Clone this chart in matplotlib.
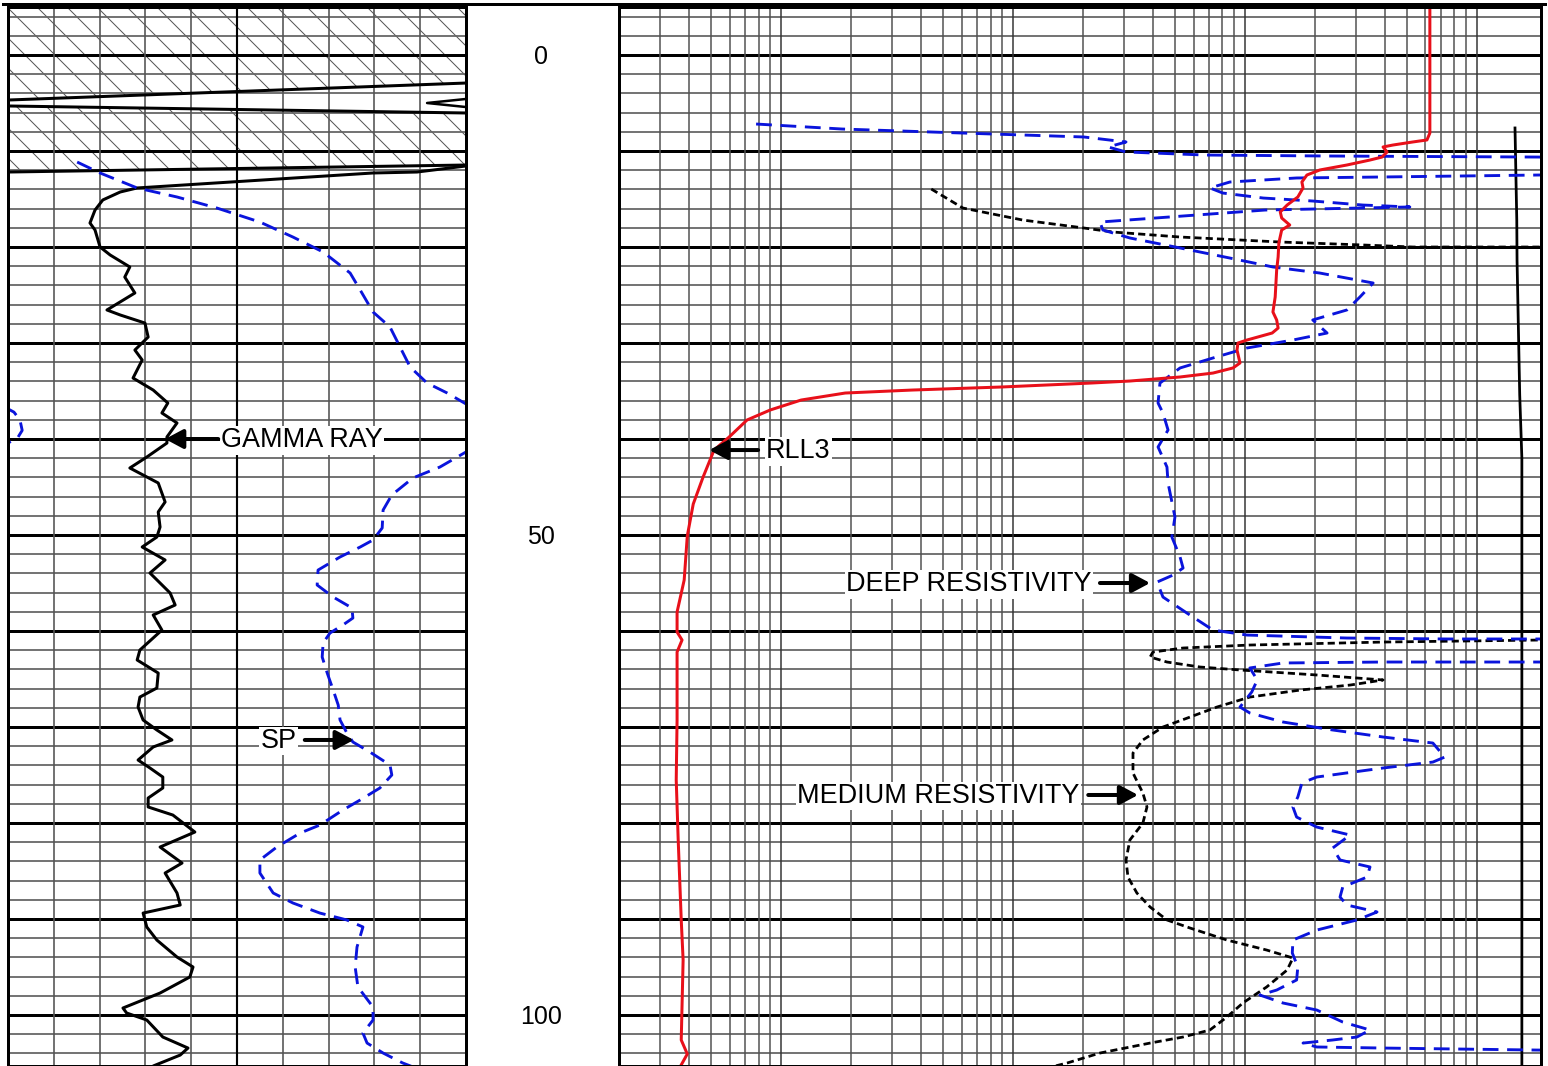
import numpy as np
import matplotlib
matplotlib.use("Agg")
import matplotlib.pyplot as plt
from matplotlib.lines import Line2D
from matplotlib.transforms import blended_transform_factory

plt.rcParams['font.family'] = ['Liberation Sans', 'DejaVu Sans']
plt.rcParams['hatch.linewidth'] = 0.8

# ---- track 1: gamma ray (solid) and SP (dashed), linear 0-100 ----
gr_depth = [11.56, 12.19, 12.29, 13.85, 14.27, 15.10, 16.15, 17.50, 18.23, 20.0, 20.83, 22.08, 23.13,
            24.79, 26.56, 27.08, 27.92, 29.38, 30.73, 31.77, 33.65, 34.90, 36.25, 37.29, 38.33,
            39.79, 40.42, 41.88, 43.02, 43.75, 44.58, 46.56, 47.60, 49.17, 50.21, 51.25, 52.60,
            53.96, 56.04, 57.29, 58.33, 59.90, 61.98, 63.02, 64.38, 65.94, 66.88, 67.92, 69.27,
            70.31, 71.35, 72.08, 73.44, 74.27, 75.21, 76.35, 77.40, 78.33, 79.17, 80.94, 82.50,
            84.17, 85.21, 87.29, 88.54, 89.38, 90.83, 92.19, 93.96, 95.0, 96.04, 97.71, 99.27,
            99.79, 100.52, 102.29, 103.44, 104.17, 105.31]
gr_value = [100, 89.3, 79.7, 28.2, 24.5, 20.7, 19.0, 17.9, 19.0, 20.1, 22.3, 26.6, 25.5,
            27.7, 21.6, 24.5, 29.9, 30.6, 27.7, 29.3, 27.3, 31.7, 34.9, 33.6, 36.9,
            34.7, 34.7, 30.3, 26.6, 29.5, 32.8, 34.3, 32.8, 33.2, 32.5, 29.3, 34.3,
            31.0, 35.4, 36.5, 31.7, 33.6, 28.8, 28.2, 32.8, 32.5, 28.8, 28.4, 29.5,
            32.5, 35.8, 31.7, 28.4, 31.0, 33.8, 33.8, 30.6, 30.6, 36.0, 40.8, 33.2,
            38.0, 34.3, 36.9, 37.6, 29.5, 30.3, 32.5, 36.9, 40.4, 39.7, 33.2, 25.1,
            25.9, 30.3, 33.8, 39.3, 37.6, 31.7]

# wrapped (backup scale) gamma ray near the top, drawn as straight traces
gr_wrap_x = [0, 100]
gr_wrap_upper = [4.69, 2.92]
gr_wrap_lower = [5.31, 6.04]
gr_wrap_base = [12.19, 11.46]
gr_tip_value = [100, 91.5, 100]
gr_tip_depth = [4.58, 5.0, 5.42]

sp_depth = [11.15, 12.29, 13.85, 14.79, 15.94, 17.40, 18.96, 20.52, 22.71, 24.48, 26.77, 28.33,
            30.42, 32.50, 34.17, 35.21, 36.35, 37.0, 40.8, 41.35, 42.92, 44.06, 45.83, 47.40,
            49.27, 50.52, 51.25, 52.29, 53.65, 55.21, 56.46, 57.60, 58.65, 59.38, 60.21, 61.25,
            62.71, 64.38, 66.15, 67.71, 69.27, 70.63, 71.56, 72.60, 73.96, 75.0, 76.35, 77.60,
            78.65, 80.21, 81.04, 82.50, 83.85, 85.21, 87.29, 88.33, 89.38, 90.10, 90.83, 92.92,
            95.0, 97.08, 99.17, 100.52, 101.88, 102.92, 103.96, 105.0, 105.7]
sp_value = [15.1, 20.1, 28.2, 36.9, 45.6, 55.0, 62.2, 68.8, 74.7, 76.9, 79.7, 83.4,
            85.6, 87.8, 91.5, 95.9, 100, 106, 106, 100, 94.3, 88.4, 83.8, 81.9,
            81.7, 79.7, 76.9, 72.5, 67.7, 67.5, 71.0, 75.1, 75.3, 73.1, 70.3, 68.8,
            68.6, 69.7, 71.0, 72.1, 72.5, 74.0, 75.3, 79.0, 83.4, 83.8, 81.2, 76.9,
            73.1, 68.1, 63.8, 58.7, 55.0, 55.0, 57.9, 62.2, 68.1, 74.0, 77.5, 76.2,
            75.8, 76.4, 79.7, 79.7, 77.5, 78.4, 81.9, 86.2, 90.0]
sp_wrap_depth = [36.6, 37.2, 38.0, 39.1, 39.8, 40.3, 41.0]
sp_wrap_value = [-1, 1.3, 2.6, 3.1, 2.2, 0.4, -1]

# ---- track 2: resistivity, log scale ----
rll3_depth = [-5, 8.13, 8.85, 9.06, 9.38, 9.58, 10.10, 10.63, 10.94, 11.46, 11.98, 12.5, 13.23,
              13.85, 14.79, 15.63, 16.35, 16.98, 17.71, 18.23, 19.58, 21.04, 22.40, 25.21, 26.77,
              27.60, 28.44, 28.96, 29.69, 30.0, 30.73, 32.08, 32.60, 33.13, 33.54, 33.96, 34.17,
              34.58, 34.90, 35.21, 35.94, 36.98, 38.02, 39.79, 41.15, 43.96, 46.77, 50.10, 54.69,
              58.02, 60.10, 60.94, 62.19, 69.27, 75.52, 81.77, 90.10, 94.27, 102.6, 104.06, 105.4]
rll3_value = [6270, 6270, 6090, 5290, 4340, 3940, 4100, 3900, 3460, 2750, 2100, 1850, 1760,
              1780, 1690, 1520, 1420, 1440, 1560, 1440, 1400, 1390, 1370, 1350, 1320,
              1370, 1390, 1310, 1020, 933, 924, 952, 888, 728, 525, 319, 217,
              89.7, 36.7, 18.9, 12.2, 8.97, 7.13, 5.97, 5.14, 4.61, 4.18, 3.94, 3.82,
              3.56, 3.56, 3.74, 3.56, 3.56, 3.53, 3.60, 3.71, 3.78, 3.71, 3.94, 3.67]

deep_depth = [7.19, 7.71, 8.13, 8.54, 9.06, 9.58, 10.10, 10.42, 10.52, 10.63, 10.7, 12.4, 12.5,
              12.71, 12.81, 13.23, 13.85, 14.38, 14.90, 15.21, 15.63, 15.83, 16.15, 17.40, 18.23,
              19.06, 20.10, 21.15, 22.08, 22.71, 23.75, 25.21, 26.56, 27.60, 28.96, 29.69, 30.52,
              31.56, 32.60, 34.17, 36.25, 37.29, 39.06, 40.83, 42.92, 44.58, 48.13, 50.21, 52.29,
              53.44, 54.17, 54.90, 56.46, 58.13, 59.90, 60.42, 60.73, 60.83, 60.83, 60.9, 63.2,
              63.23, 63.23, 63.33, 63.85, 65.10, 66.35, 67.92, 68.54, 69.48, 70.31, 71.04, 71.67,
              73.13, 73.65, 74.27, 75.21, 75.83, 77.29, 78.33, 79.38, 80.42, 81.25, 82.60, 83.85,
              84.58, 85.63, 86.67, 87.71, 88.54, 89.27, 90.10, 91.15, 92.19, 93.54, 95.0, 96.35,
              97.40, 97.92, 98.75, 99.48, 100.73, 101.56, 102.29, 102.60, 102.92, 103.33, 103.44,
              103.65, 103.7]
deep_value = [7.80, 18.3, 60.8, 202, 307, 257, 307, 673, 2210, 18200, 40000, 40000, 18700,
              3820, 1670, 861, 706, 803, 1200, 1960, 3230, 5140, 1220, 237, 244,
              319, 525, 861, 1320, 2100, 3570, 3130, 2750, 1960, 2260, 1610, 1020,
              728, 525, 430, 422, 443, 466, 422, 461, 466, 499, 484, 525,
              541, 490, 418, 443, 562, 728, 1020, 2750, 7430, 18700, 40000, 40000,
              18700, 3940, 1460, 1050, 1130, 1070, 952, 1050, 1460, 2390, 3940, 6460,
              7270, 6460, 3940, 2040, 1760, 1690, 1610, 1670, 2040, 2840, 2390, 2570,
              3460, 3360, 2640, 2570, 2750, 3710, 3040, 2040, 1610, 1600, 1690, 1670,
              1370, 1160, 1460, 2040, 2640, 3460, 3040, 2390, 1780, 2040, 3940,
              18300, 40000]

med_depth = [13.96, 15.94, 17.19, 18.02, 18.44, 18.96, 19.48, 19.79, 20.0, 20.0, 20.1, 60.8,
             60.94, 61.15, 61.46, 61.77, 62.19, 62.71, 63.23, 63.75, 64.06, 64.58, 65.10, 65.63,
             66.15, 66.88, 67.92, 68.96, 70.0, 71.35, 72.71, 74.79, 76.88, 78.33, 80.0, 81.77,
             83.85, 85.63, 87.29, 88.75, 90.10, 90.94, 92.19, 93.23, 94.06, 95.31, 97.08, 98.75,
             100.21, 101.56, 102.29, 102.92, 103.96, 105.0, 105.7]
med_value = [44.4, 60.8, 110, 202, 270, 525, 1420, 3230, 5300, 18700, 40000, 40000,
             18700, 3940, 1050, 541, 401, 390, 461, 640, 952, 2040, 3940, 2840,
             1730, 1050, 757, 580, 443, 363, 329, 329, 363, 378, 363, 319,
             307, 313, 342, 390, 461, 580, 836, 1240, 1610, 1520, 1240, 979,
             836, 706, 541, 390, 237, 171, 131]

backup_depth = [7.6, 17.2, 21.4, 35.4, 42.0, 105.3]
backup_value = [14600, 14860, 14900, 15300, 15630, 15630]

depth_labels = [0, 50, 100]

W, H, DPI = 1548, 1066, 90
BLUE = '#0a14dc'
RED = '#e8101a'
top_d, bot_d = -5, 105.31

fig = plt.figure(figsize=(W / DPI, H / DPI), dpi=DPI)
ax_gr = fig.add_axes([8 / W, 0, 458 / W, (H - 7) / H])
ax_res = fig.add_axes([619 / W, 0, 922 / W, (H - 7) / H])

for ax in (ax_gr, ax_res):
    ax.set_ylim(bot_d, top_d)
    ax.set_xticks([])
    ax.set_yticks([])
    ax.minorticks_off()
    for s in ax.spines.values():
        s.set_linewidth(2.4)
        s.set_zorder(5)
    for d in np.arange(-4, 106, 2):
        thick = d % 10 == 0
        ax.axhline(d, color='black' if thick else '#626262', lw=2.4 if thick else 1.4, zorder=1)

ax_gr.set_xlim(0, 100)
for g in range(10, 100, 10):
    ax_gr.axvline(g, color='black' if g == 50 else '#555555', lw=1.7 if g == 50 else 1.3, zorder=1)

ax_res.set_xscale('log')
ax_res.set_xlim(2, 18900)
ax_res.set_xticks([])
ax_res.set_xticks([], minor=True)
for n in range(0, 5):
    for k in range(1, 10):
        v = k * 10 ** n
        if 2 < v < 18900:
            ax_res.axvline(v, color='#333333' if k == 1 else '#505050', lw=1.2, zorder=1)

# hatched shale zone at the top of track 1
ax_gr.fill([0, 100, 100, 0], [top_d, top_d, gr_wrap_upper[1], gr_wrap_upper[0]],
           facecolor='white', edgecolor='#555555', hatch='\\', lw=0, zorder=0.5)
ax_gr.fill([0, 100, 100, 0], [gr_wrap_lower[0], gr_wrap_lower[1], gr_wrap_base[1], gr_wrap_base[0]],
           facecolor='white', edgecolor='#555555', hatch='\\', lw=0, zorder=0.5)
for yy in (gr_wrap_upper, gr_wrap_lower, gr_wrap_base):
    ax_gr.plot(gr_wrap_x, yy, color='black', lw=2.4, zorder=3)
ax_gr.plot(gr_tip_value, gr_tip_depth, color='black', lw=2.0, zorder=3)

ax_gr.plot(gr_value, gr_depth, color='black', lw=2.4, zorder=4,
           solid_joinstyle='round', solid_capstyle='round')
ax_gr.plot(sp_value, sp_depth, color=BLUE, lw=2.3, ls=(0, (5.5, 3)), zorder=4)
ax_gr.plot(sp_wrap_value, sp_wrap_depth, color=BLUE, lw=2.3, ls=(0, (5.5, 3)), zorder=4)

ax_res.plot(backup_value, backup_depth, color='black', lw=2.2, zorder=3)
ax_res.plot(med_value, med_depth, color='black', lw=2.2, ls=(0, (2.6, 1.5)), zorder=4)
ax_res.plot(deep_value, deep_depth, color=BLUE, lw=2.3, ls=(0, (5.5, 3)), zorder=4)
ax_res.plot(rll3_value, rll3_depth, color=RED, lw=2.4, zorder=4, solid_joinstyle='round')

box = dict(facecolor='white', edgecolor='none', pad=1)
arrow = dict(arrowstyle='-|>,head_length=0.6,head_width=0.32', color='black', lw=3.2,
             mutation_scale=20, shrinkA=0, shrinkB=0)
fs = 21.6
dy = 0.12

ax_gr.text(46.5, 40 + dy, 'GAMMA RAY', ha='left', va='center', fontsize=fs, bbox=box, zorder=6)
ax_gr.annotate('', xy=(34.3, 40), xytext=(45.9, 40), arrowprops=arrow, zorder=6)
ax_gr.text(55.2, 71.35 + dy, 'SP', ha='left', va='center', fontsize=fs, bbox=box, zorder=6)
ax_gr.annotate('', xy=(75.5, 71.35), xytext=(64.8, 71.35), arrowprops=arrow, zorder=6)

ax_res.text(8.61, 41.15 + dy, 'RLL3', ha='left', va='center', fontsize=fs, bbox=box, zorder=6)
ax_res.annotate('', xy=(4.9, 41.15), xytext=(7.96, 41.15), arrowprops=arrow, zorder=6)
ax_res.text(219, 55.0 + dy, 'DEEP RESISTIVITY', ha='right', va='center', fontsize=fs, bbox=box, zorder=6)
ax_res.annotate('', xy=(390, 55.0), xytext=(237, 55.0), arrowprops=arrow, zorder=6)
ax_res.text(194, 77.08 + dy, 'MEDIUM RESISTIVITY', ha='right', va='center', fontsize=fs, bbox=box, zorder=6)
ax_res.annotate('', xy=(346, 77.08), xytext=(211, 77.08), arrowprops=arrow, zorder=6)

trans = blended_transform_factory(fig.transFigure, ax_gr.transData)
for d in depth_labels:
    ax_gr.text(541 / W, d + 0.2, str(d), transform=trans, ha='center', va='center',
               fontsize=20, clip_on=False)

fig.add_artist(Line2D([3 / W, 1545 / W], [1 - 3.5 / H] * 2, color='black', lw=2.4))

fig.savefig('out.png', dpi=DPI, facecolor='white')
